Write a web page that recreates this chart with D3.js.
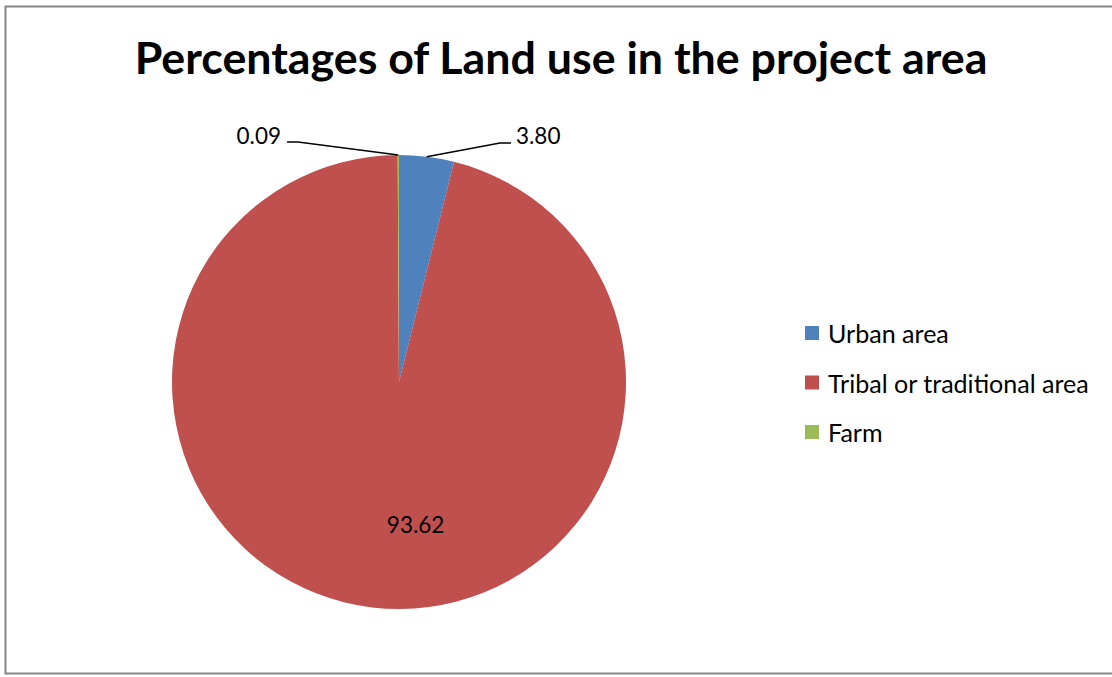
<!DOCTYPE html>
<html>
<head>
<meta charset="utf-8">
<script src="https://cdn.jsdelivr.net/npm/d3@7"></script>
<style>
  html, body { margin: 0; padding: 0; background: #fff; }
  text { font-family: Lato, "Open Sans", sans-serif; }
</style>
</head>
<body>
<svg id="chart" width="1112" height="677"></svg>
<script>
// Land use shares in the project area (%)
const categories = ["Urban area", "Tribal or traditional area", "Farm"];
const values = [3.80, 93.62, 0.09];
const valueLabels = ["3.80", "93.62", "0.09"];
const colors = ["#4f81bd", "#c0504d", "#9bbb59"];
const title = "Percentages of Land use in the project area";

const svg = d3.select("#chart");

// size a text element so that it spans the given width
function fitWidth(sel, width) {
  const base = 20;
  sel.attr("font-size", base);
  const w = sel.node().getComputedTextLength();
  sel.attr("font-size", base * width / w);
  return sel;
}

// outer frame
svg.append("rect")
  .attr("x", 5.5).attr("y", 6.5)
  .attr("width", 1130).attr("height", 667)
  .attr("fill", "#fff")
  .attr("stroke", "#868686").attr("stroke-width", 2);

// title
const t = svg.append("text")
  .attr("x", 561).attr("y", 74)
  .attr("text-anchor", "middle")
  .attr("font-weight", "bold")
  .attr("fill", "#000")
  .text(title);
fitWidth(t, 853);

// pie
const cx = 399, cy = 382, r = 227;
const pie = d3.pie().sort(null).value(d => d)(values);
const arc = d3.arc().innerRadius(0).outerRadius(r);
const g = svg.append("g").attr("transform", `translate(${cx},${cy})`);
g.selectAll("path")
  .data(pie)
  .join("path")
  .attr("d", arc)
  .attr("fill", (d, i) => colors[i]);

const polar = (a, rad) => [Math.sin(a) * rad, -Math.cos(a) * rad];
const mid = d => (d.startAngle + d.endAngle) / 2;
const numFont = 22.5;

// Tribal: inside the slice, below the centre
{
  const [x, y] = polar(Math.PI * 0.963, r * 0.63);
  g.append("text")
    .attr("x", x).attr("y", y)
    .attr("text-anchor", "middle")
    .attr("dominant-baseline", "central")
    .attr("font-size", numFont)
    .text(valueLabels[1]);
}

// Urban: outside on the right, with leader line
{
  const [px, py] = polar(mid(pie[0]), r);
  const ex = 101, ey = -239, hx = 112;
  g.append("polyline")
    .attr("points", `${px},${py} ${ex},${ey} ${hx},${ey}`)
    .attr("fill", "none").attr("stroke", "#000").attr("stroke-width", 1.5);
  g.append("text")
    .attr("x", hx + 5).attr("y", ey + 1)
    .attr("font-size", numFont)
    .text(valueLabels[0]);
}

// Farm: outside on the left, with leader line
{
  const [px, py] = polar(mid(pie[2]), r);
  const ex = -101, ey = -240, hx = -112;
  g.append("polyline")
    .attr("points", `${px},${py} ${ex},${ey} ${hx},${ey}`)
    .attr("fill", "none").attr("stroke", "#000").attr("stroke-width", 1.5);
  g.append("text")
    .attr("x", hx - 6).attr("y", ey + 2)
    .attr("text-anchor", "end")
    .attr("font-size", numFont)
    .text(valueLabels[2]);
}

// legend
const y = d3.scalePoint().domain(categories).range([333, 432]);
const items = svg.append("g").selectAll("g").data(categories).join("g")
  .attr("transform", d => `translate(805,${y(d)})`);
items.append("rect")
  .attr("x", 0).attr("y", -7)
  .attr("width", 14).attr("height", 14)
  .attr("fill", (d, i) => colors[i]);
const lt = items.append("text")
  .attr("x", 23).attr("y", 0)
  .attr("dominant-baseline", "central")
  .text(d => d);
// legend font sized from the longest entry
fitWidth(d3.select(lt.nodes()[1]), 261);
lt.attr("font-size", d3.select(lt.nodes()[1]).attr("font-size"));
</script>
</body>
</html>
